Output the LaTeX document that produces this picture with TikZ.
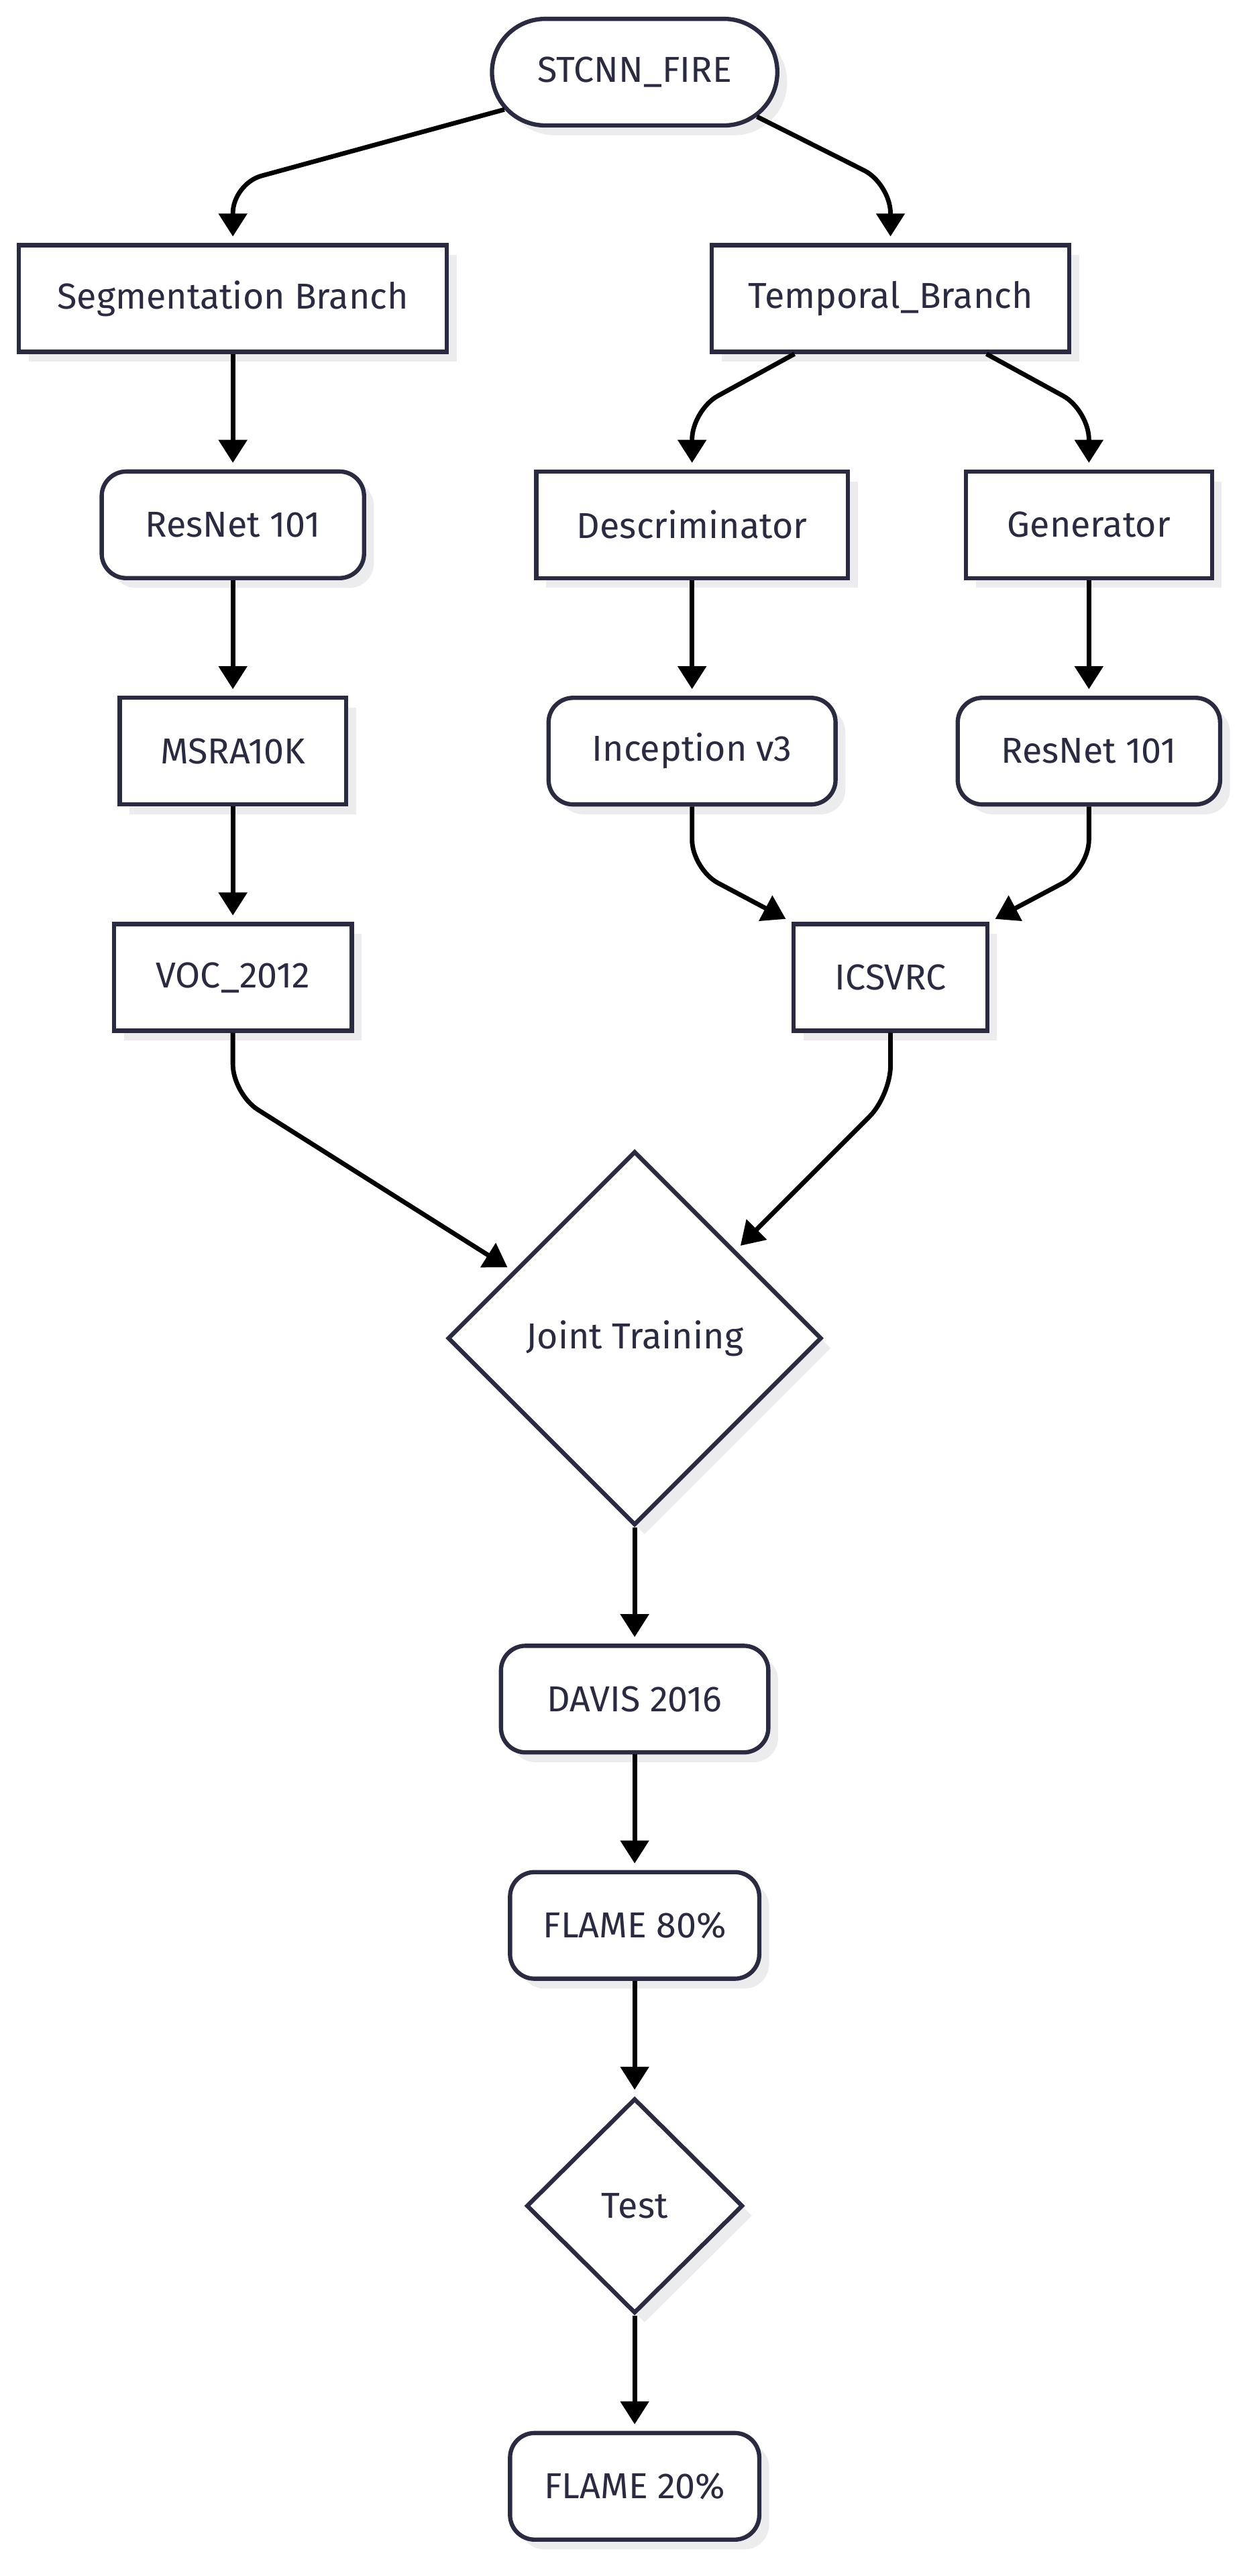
\documentclass[tikz,border=0pt]{standalone}
\usepackage{fontspec}
\setmainfont{Fira Sans}
\usetikzlibrary{arrows.meta,shapes.geometric,shapes.misc,shadows}

\definecolor{ink}{RGB}{42,42,64}
\definecolor{shade}{RGB}{236,236,238}

\begin{document}
\begin{tikzpicture}[x=1pt,y=-1pt,
  base/.style={draw=ink,line width=2.6pt,fill=white,text=ink,
    font=\fontsize{22}{26}\selectfont,inner sep=0pt,minimum height=65pt,
    drop shadow={shadow xshift=6pt,shadow yshift=-6pt,fill=shade,opacity=1}},
  box/.style={base,rectangle},
  soft/.style={base,rectangle,rounded corners=15pt},
  pill/.style={base,rounded rectangle},
  choice/.style={base,diamond,aspect=1},
  link/.style={-{Triangle[length=14pt,width=17pt]},line width=2.8pt,
    shorten >=4pt,rounded corners=18pt}]
\useasboundingbox (0,0) rectangle (760,1570.7);

\node[pill,minimum width=174pt] (stcnn) at (387,44) {STCNN\_FIRE};

\node[box,minimum width=261pt] (seg) at (142,182) {Segmentation Branch};
\node[box,minimum width=218pt] (temp) at (543,182) {Temporal\_Branch};

\node[soft,minimum width=160pt] (resleft) at (142,320) {ResNet 101};
\node[box,minimum width=190pt] (desc) at (422,320) {Descriminator};
\node[box,minimum width=150pt] (gen) at (664,320) {Generator};

\node[box,minimum width=138pt] (msra) at (142,458) {MSRA10K};
\node[soft,minimum width=175pt] (incep) at (422,458) {Inception v3};
\node[soft,minimum width=160pt] (resright) at (664,458) {ResNet 101};

\node[box,minimum width=145pt] (voc) at (142,596) {VOC\_2012};
\node[box,minimum width=118pt] (icsvrc) at (543,596) {ICSVRC};

\node[choice,minimum width=228pt,minimum height=228pt] (joint) at (387,816) {Joint Training};

\node[soft,minimum width=163pt] (davis) at (387,1036) {DAVIS 2016};
\node[soft,minimum width=152pt] (flametrain) at (387,1174) {FLAME 80\%};
\node[choice,minimum width=132pt,minimum height=131pt] (test) at (387,1345) {Test};
\node[soft,minimum width=152pt] (flametest) at (387,1516) {FLAME 20\%};

% branches
\draw[link] (stcnn.196) -- (seg.north |- 0,112) -- (seg.north);
\draw[link] (stcnn.-20) -- (temp.north |- 0,112) -- (temp.north);
\draw[link] (temp.210) -- (desc.north |- 0,250) -- (desc.north);
\draw[link] (temp.-30) -- (gen.north |- 0,250) -- (gen.north);

\draw[link] (seg) -- (resleft);
\draw[link] (resleft) -- (msra);
\draw[link] (msra) -- (voc);
\draw[link] (desc) -- (incep);
\draw[link] (gen) -- (resright);

\draw[link] (incep.south) -- (incep.south |- 0,530) -- (icsvrc.north west);
\draw[link] (resright.south) -- (resright.south |- 0,530) -- (icsvrc.north east);

% training and test
\draw[link] (voc.south) -- (voc.south |- 0,667) -- (joint.151);
\draw[link] (icsvrc.south) -- (icsvrc.south |- 0,668) -- (joint.41);
\draw[link] (joint.south) -- (davis.north);
\draw[link] (davis) -- (flametrain);
\draw[link] (flametrain) -- (test.north);
\draw[link] (test.south) -- (flametest);
\end{tikzpicture}
\end{document}
